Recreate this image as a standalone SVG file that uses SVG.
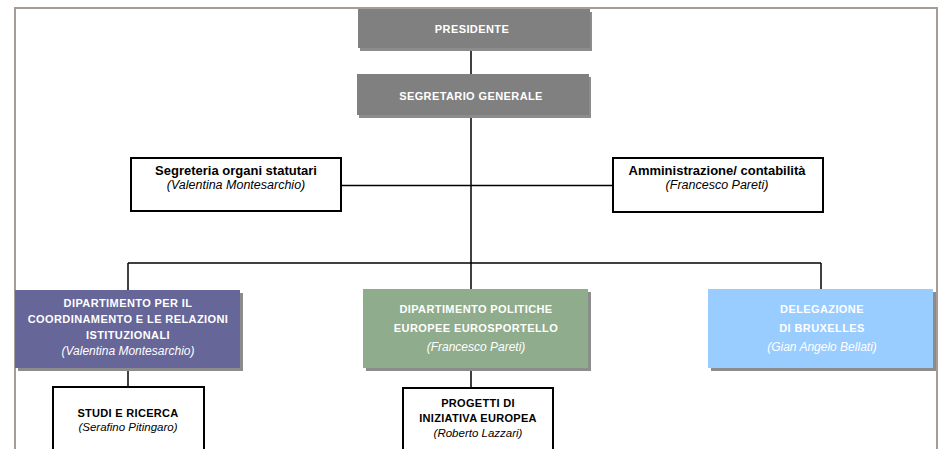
<svg xmlns="http://www.w3.org/2000/svg" width="939" height="449" viewBox="0 0 939 449">
  <defs>
    <style>
      .page { fill: none; stroke: #a89d96; stroke-width: 2; }
      .link { fill: none; stroke: #000; stroke-width: 1.5; }
      .shadow { fill: #8c8c8c; }
      .gray { fill: #808080; }
      .purple { fill: #666699; }
      .green { fill: #8fac8c; }
      .blue { fill: #99ccff; }
      .plain { fill: #fff; stroke: #000; stroke-width: 2; }
      .cap { font-family: "Liberation Sans", Arial, sans-serif; font-weight: bold; font-size: 11px; letter-spacing: 0.4px; text-anchor: middle; fill: #fff; }
      .head { font-family: "Liberation Sans", Arial, sans-serif; font-weight: bold; font-size: 13px; text-anchor: middle; fill: #000; }
      .name { font-family: "Liberation Sans", Arial, sans-serif; font-style: italic; font-size: 12.5px; text-anchor: middle; fill: #000; }
      .namew { font-family: "Liberation Sans", Arial, sans-serif; font-style: italic; font-size: 12px; text-anchor: middle; fill: #fff; }
      .capk { font-family: "Liberation Sans", Arial, sans-serif; font-weight: bold; font-size: 11px; letter-spacing: 0.3px; text-anchor: middle; fill: #000; }
      .namek { font-family: "Liberation Sans", Arial, sans-serif; font-style: italic; font-size: 11.5px; text-anchor: middle; fill: #000; }
    </style>
  </defs>

  <rect width="939" height="449" fill="#fff"/>

  <!-- page frame -->
  <path class="page" d="M15,449 V8 H937 V449"/>

  <!-- connectors -->
  <g id="connectors">
    <line class="link" x1="471" y1="48" x2="471" y2="75"/>
    <line class="link" x1="471" y1="117" x2="471" y2="290"/>
    <line class="link" x1="341" y1="185.5" x2="613" y2="185.5" stroke-width="2"/>
    <line class="link" x1="128" y1="263" x2="821" y2="263"/>
    <line class="link" x1="128" y1="263" x2="128" y2="290"/>
    <line class="link" x1="821" y1="263" x2="821" y2="290"/>
    <line class="link" x1="128" y1="368" x2="128" y2="387"/>
    <line class="link" x1="471" y1="368" x2="471" y2="387"/>
  </g>

  <g id="presidente">
    <rect class="shadow" x="360" y="12" width="232" height="39"/>
    <rect class="gray" x="358" y="9" width="232" height="39"/>
    <text class="cap" x="472" y="33">PRESIDENTE</text>
  </g>

  <g id="segretario-generale">
    <rect class="shadow" x="359" y="77" width="232" height="41"/>
    <rect class="gray" x="357" y="74" width="232" height="41"/>
    <text class="cap" x="471" y="100">SEGRETARIO GENERALE</text>
  </g>

  <g id="segreteria-organi">
    <rect class="plain" x="131" y="158" width="210" height="53"/>
    <text class="head" x="236" y="175">Segreteria organi statutari</text>
    <text class="name" x="236" y="189">(Valentina Montesarchio)</text>
  </g>

  <g id="amministrazione">
    <rect class="plain" x="613" y="158" width="210" height="54"/>
    <text class="head" x="717" y="175">Amministrazione/ contabilità</text>
    <text class="name" x="717" y="189">(Francesco Pareti)</text>
  </g>

  <g id="dip-coordinamento">
    <rect class="shadow" x="18" y="293" width="225" height="78"/>
    <rect class="purple" x="15" y="290" width="225" height="78"/>
    <text class="cap" x="128" y="307">DIPARTIMENTO PER IL</text>
    <text class="cap" x="128" y="323" letter-spacing="0.6">COORDINAMENTO E LE RELAZIONI</text>
    <text class="cap" x="128" y="339">ISTITUZIONALI</text>
    <text class="namew" x="128" y="355">(Valentina Montesarchio)</text>
  </g>

  <g id="dip-politiche-europee">
    <rect class="shadow" x="366" y="292" width="225" height="79"/>
    <rect class="green" x="363" y="289" width="225" height="79"/>
    <text class="cap" x="476" y="313">DIPARTIMENTO POLITICHE</text>
    <text class="cap" x="476" y="332">EUROPEE EUROSPORTELLO</text>
    <text class="namew" x="476" y="351">(Francesco Pareti)</text>
  </g>

  <g id="delegazione-bruxelles">
    <rect class="shadow" x="711" y="292" width="225" height="79"/>
    <rect class="blue" x="708" y="289" width="225" height="79"/>
    <text class="cap" x="822" y="313">DELEGAZIONE</text>
    <text class="cap" x="822" y="332">DI BRUXELLES</text>
    <text class="namew" x="822" y="351">(Gian Angelo Bellati)</text>
  </g>

  <g id="studi-ricerca">
    <rect class="plain" x="53" y="387" width="151" height="70"/>
    <text class="capk" x="128" y="417">STUDI E RICERCA</text>
    <text class="namek" x="128" y="431">(Serafino Pitingaro)</text>
  </g>

  <g id="progetti-iniziativa">
    <rect class="plain" x="403" y="388" width="150" height="70"/>
    <text class="capk" x="478" y="407">PROGETTI DI</text>
    <text class="capk" x="478" y="422">INIZIATIVA EUROPEA</text>
    <text class="namek" x="478" y="437">(Roberto Lazzari)</text>
  </g>
</svg>
